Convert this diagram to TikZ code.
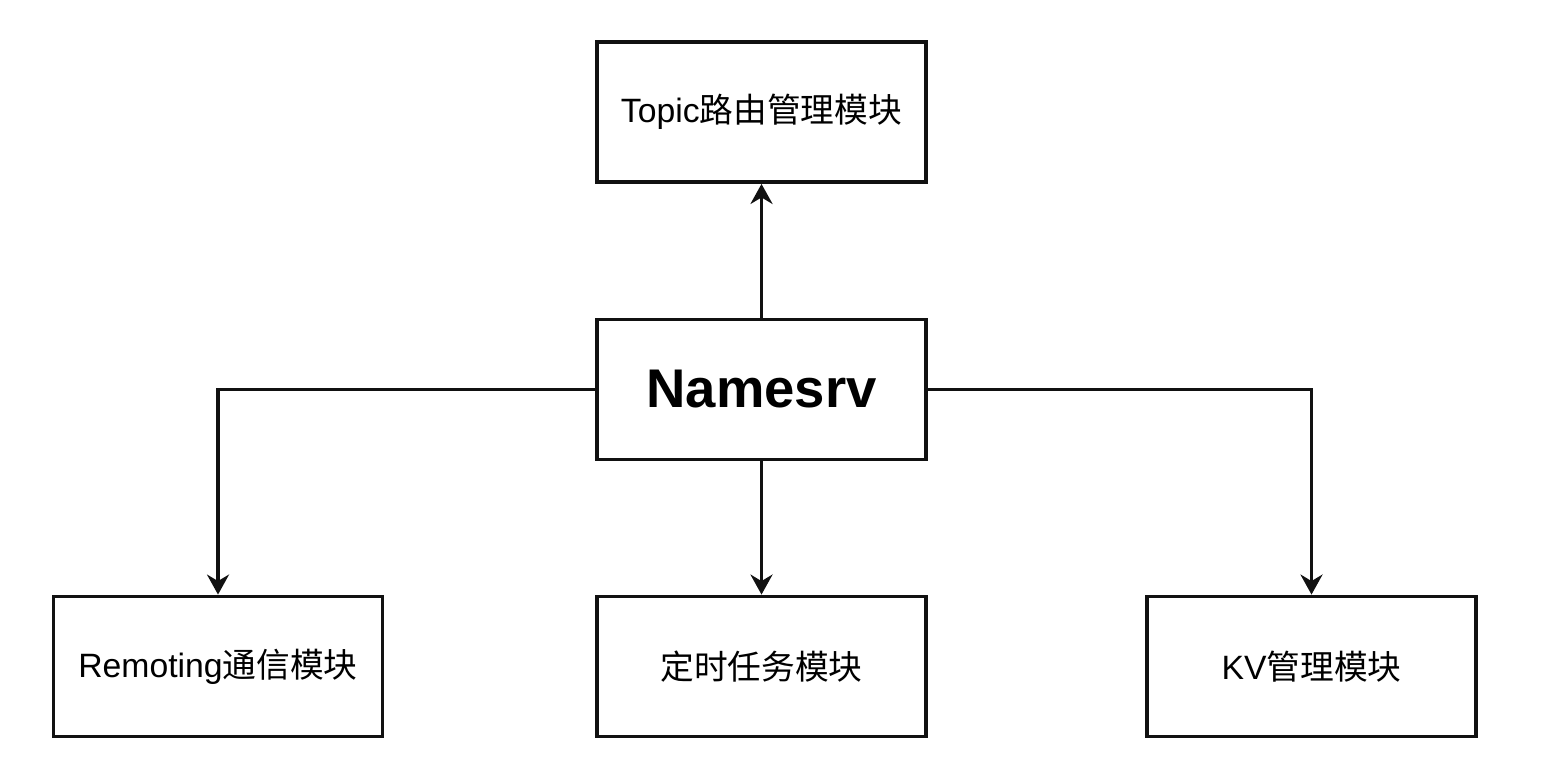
\documentclass[tikz,border=0pt]{standalone}
\usepackage{fontspec}
\setmainfont{Liberation Sans}
\newfontfamily\cjk{Noto Sans CJK SC}
\usepackage{tikz}
\usetikzlibrary{arrows.meta, positioning, calc}
\definecolor{BoxLine}{HTML}{111111}

\begin{document}
\begin{tikzpicture}[>={Stealth[length=2.0mm, width=2.2mm]}]
    \useasboundingbox (0,0) rectangle (15.42,7.64);
    \tikzset{
        module/.style={draw=BoxLine, line width=1.1pt, minimum width=3.29cm, minimum height=1.40cm,
            inner sep=0pt, font=\fontsize{9.6pt}{11pt}\selectfont},
        link/.style={->, draw=BoxLine, line width=1.0pt}
    }

    % 1. Central node
    \node[module, font=\fontsize{15.5pt}{18pt}\selectfont\bfseries] (namesrv) at (7.615, 3.745) {Namesrv};

    % 2. Modules around it
    \node[module] (topic) at (7.615, 6.52) {Topic{\cjk 路由管理模块}};
    \node[module] (remoting) at (2.18, 0.975) {Remoting{\cjk 通信模块}};
    \node[module] (timer) at (7.615, 0.975) {{\cjk 定时任务模块}};
    \node[module] (kv) at (13.115, 0.975) {KV{\cjk 管理模块}};

    % 3. Connectors
    \draw[link] (namesrv.north) -- (topic.south);
    \draw[link] (namesrv.south) -- (timer.north);
    \draw[link] (namesrv.west) -| (remoting.north);
    \draw[link] (namesrv.east) -| (kv.north);
\end{tikzpicture}
\end{document}
